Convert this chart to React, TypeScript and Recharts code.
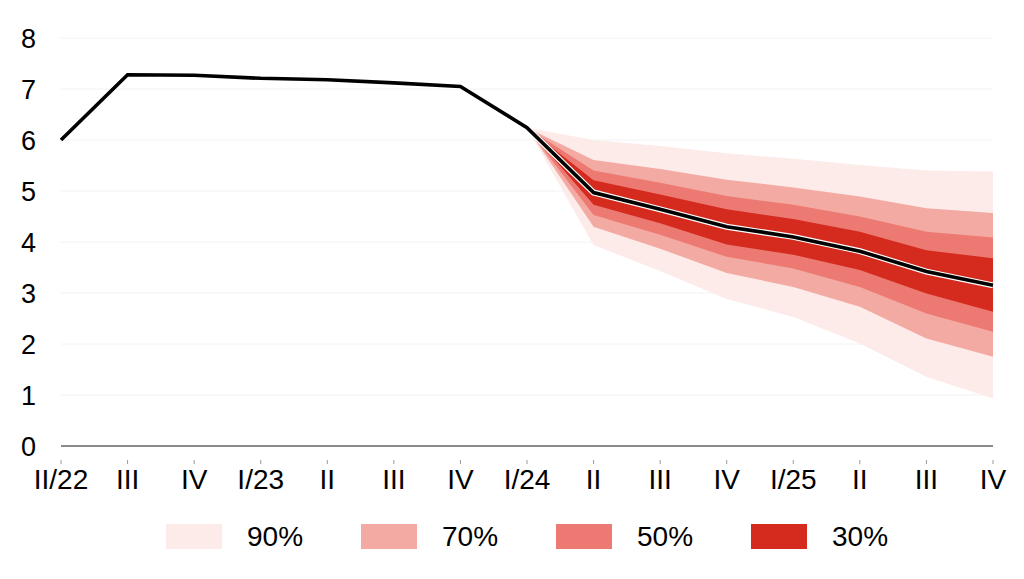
import { ComposedChart, Area, Line, XAxis, YAxis, CartesianGrid } from 'recharts';

const categories = ['II/22', 'III', 'IV', 'I/23', 'II', 'III', 'IV', 'I/24', 'II', 'III', 'IV', 'I/25', 'II', 'III', 'IV'];
const central = [6.0, 7.28, 7.27, 7.21, 7.18, 7.12, 7.05, 6.24, 4.97, 4.64, 4.3, 4.1, 3.82, 3.42, 3.15];

// fan starts at I/24 (index 7)
const fanStart = 7;
const upper90 = [6.24, 6.0, 5.88, 5.74, 5.63, 5.51, 5.4, 5.38];
const upper70 = [6.24, 5.61, 5.43, 5.22, 5.07, 4.89, 4.66, 4.57];
const upper50 = [6.24, 5.4, 5.16, 4.9, 4.73, 4.5, 4.2, 4.09];
const upper30 = [6.24, 5.21, 4.93, 4.64, 4.45, 4.2, 3.84, 3.68];
const lower30 = [6.24, 4.73, 4.37, 3.95, 3.75, 3.45, 2.99, 2.63];
const lower50 = [6.24, 4.53, 4.14, 3.71, 3.48, 3.12, 2.6, 2.24];
const lower70 = [6.24, 4.3, 3.87, 3.39, 3.12, 2.73, 2.11, 1.75];
const lower90 = [6.24, 3.94, 3.43, 2.88, 2.53, 2.01, 1.36, 0.93];

const yTicks = [0, 1, 2, 3, 4, 5, 6, 7, 8];
const xTicks = categories.map((_, i) => i);

const bands = [
    { key: 'b90', label: '90%', color: '#fcebe9', lo: lower90, hi: upper90 },
    { key: 'b70', label: '70%', color: '#f3aaa3', lo: lower70, hi: upper70 },
    { key: 'b50', label: '50%', color: '#ec7a72', lo: lower50, hi: upper50 },
    { key: 'b30', label: '30%', color: '#d52b1f', lo: lower30, hi: upper30 },
];

const data = categories.map((cat, i) => {
    const row: Record<string, any> = { idx: i, cat, central: central[i] };
    bands.forEach((b) => {
        const j = i - fanStart;
        row[b.key] = j >= 0 ? [b.lo[j], b.hi[j]] : undefined;
    });
    return row;
});

const FONT = '"Liberation Sans", Arial, sans-serif';

function XTick({ x, y, payload }: any) {
    return (
        <g>
            <line x1={x} x2={x} y1={y + 14} y2={y + 18} stroke="#999" strokeWidth={1} />
            <text x={x} y={y + 43} textAnchor="middle" fontSize={28} fill="#000" fontFamily={FONT}>
                {categories[payload.value]}
            </text>
        </g>
    );
}

function YTick({ x, y, payload }: any) {
    return (
        <text x={x} y={y + 10} textAnchor="end" fontSize={27} fill="#000" fontFamily={FONT}>
            {payload.value}
        </text>
    );
}

export default function App() {
    return (
        <div style={{ position: 'absolute', left: 0, top: 0, width: 1024, height: 579, background: '#fff', fontFamily: FONT }}>
            <ComposedChart width={1024} height={579} data={data} margin={{ top: 38, right: 31, left: 11, bottom: 93 }}>
                <CartesianGrid horizontal vertical={false} stroke="#f2f2f2" />
                <XAxis
                    dataKey="idx"
                    type="number"
                    domain={[0, 14]}
                    ticks={xTicks}
                    interval={0}
                    height={40}
                    tickSize={0}
                    tickMargin={0}
                    tickLine={false}
                    axisLine={{ stroke: '#666', strokeWidth: 1.3 }}
                    tick={<XTick />}
                />
                <YAxis
                    domain={[0, 8]}
                    ticks={yTicks}
                    width={50}
                    axisLine={false}
                    tickLine={false}
                    tickSize={0}
                    tickMargin={25}
                    tick={<YTick />}
                />
                {bands.map((b) => (
                    <Area
                        key={b.key}
                        type="linear"
                        dataKey={b.key}
                        stroke="none"
                        fill={b.color}
                        fillOpacity={1}
                        isAnimationActive={false}
                        activeDot={false}
                    />
                ))}
                <Line type="linear" dataKey="central" stroke="#fff" strokeWidth={6} dot={false} activeDot={false} isAnimationActive={false} />
                <Line type="linear" dataKey="central" stroke="#000" strokeWidth={3.6} dot={false} activeDot={false} isAnimationActive={false} />
            </ComposedChart>
            <div style={{ position: 'absolute', left: 166, top: 524, display: 'flex' }}>
                {bands.map((b) => (
                    <div key={b.key} style={{ display: 'flex', alignItems: 'center', width: 195 }}>
                        <div style={{ width: 56, height: 25, background: b.color }} />
                        <span style={{ marginLeft: 25, fontSize: 28, lineHeight: '25px', color: '#000' }}>{b.label}</span>
                    </div>
                ))}
            </div>
        </div>
    );
}
